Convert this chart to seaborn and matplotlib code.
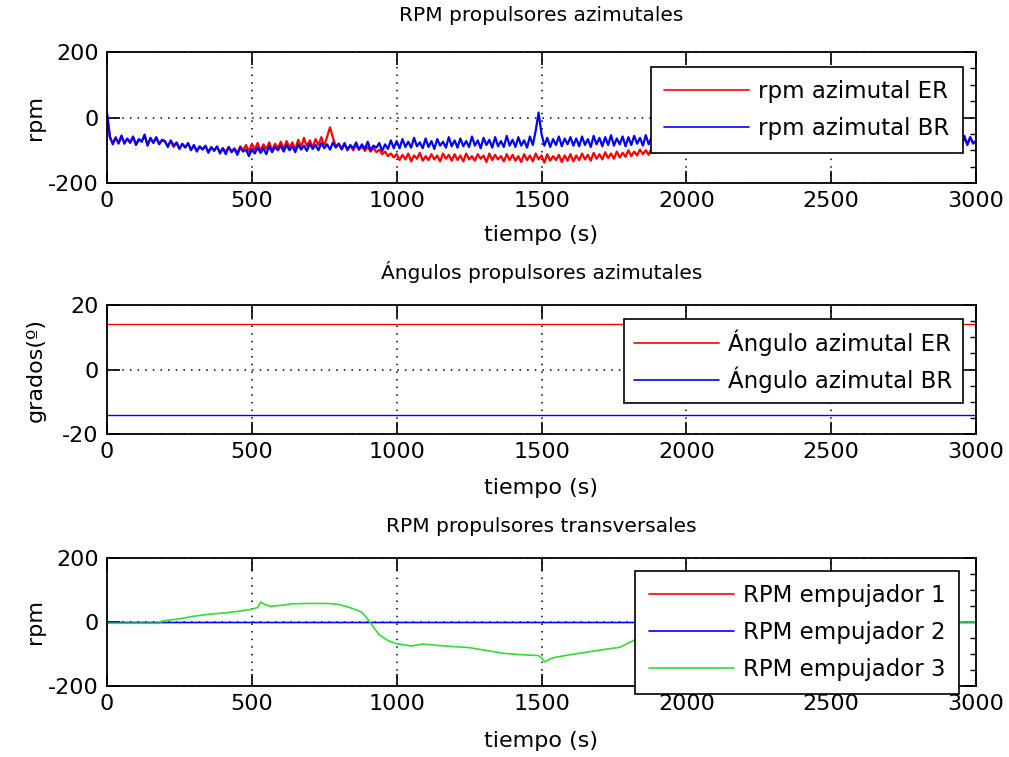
import numpy as np
import pandas as pd
import matplotlib
matplotlib.use("Agg")
import matplotlib.pyplot as plt
from matplotlib.ticker import MultipleLocator
import seaborn as sns

# ---------------- data ----------------
t_az = list(range(0, 3001, 10))  # time (s)

rpm_br = [
    15, -58, -82, -62, -78, -55, -80, -64, -76, -58, -84, -66, -74, -52, -86, -62, -78, -60, -82, -68,
    -72, -90, -70, -86, -76, -96, -80, -92, -78, -100, -84, -104, -88, -98, -86, -108, -90, -102, -88, -110,
    -94, -112, -90, -106, -96, -114, -92, -104, -98, -118, -96, -110, -92, -108, -94, -112, -88, -106, -90, -100,
    -86, -104, -84, -100, -88, -106, -82, -98, -86, -102, -80, -96, -84, -100, -78, -94, -82, -98, -76, -92,
    -80, -96, -78, -100, -84, -94, -76, -98, -82, -96, -74, -100, -86, -92, -78, -102, -82, -96, -70, -94,
    -72, -94, -66, -90, -74, -92, -62, -88, -76, -94, -64, -90, -72, -96, -66, -86, -74, -92, -60, -88,
    -70, -92, -64, -88, -72, -90, -58, -86, -70, -94, -62, -84, -68, -92, -60, -88, -72, -90, -56, -86,
    -68, -90, -60, -86, -70, -92, -58, -84, -40, 15, -50, -86, -62, -90, -66, -84, -58, -88, -64, -82,
    -60, -86, -64, -88, -58, -84, -66, -90, -56, -82, -62, -88, -60, -84, -54, -86, -64, -82, -58, -88,
    -60, -84, -56, -80, -62, -86, -54, -82, -60, -78, -52, -84, -58, -80, -62, -86, -56, -78, -60, -82,
    -58, -80, -62, -84, -56, -78, -64, -82, -60, -76, -54, -80, -62, -84, -58, -78, -64, -80, -56, -82,
    -60, -78, -56, -84, -62, -80, -58, -76, -64, -82, -56, -80, -60, -84, -62, -78, -54, -80, -60, -82,
    -62, -80, -58, -78, -56, -84, -60, -80, -64, -76, -58, -82, -60, -78, -56, -80, -62, -84, -58, -78,
    -56, -80, -62, -82, -58, -78, -60, -84, -62, -80, -56, -78, -64, -82, -58, -80, -60, -76, -56, -82,
    -60, -78, -58, -84, -62, -80, -56, -78, -60, -82, -54, -86, -62, -80, -58, -92, -56, -84, -60, -78,
    -72,
]

rpm_er = [
    10, -62, -78, -60, -80, -58, -76, -66, -78, -60, -82, -68, -72, -56, -84, -64, -76, -62, -80, -70,
    -74, -88, -72, -90, -78, -94, -82, -90, -80, -98, -86, -100, -90, -96, -88, -104, -92, -100, -90, -106,
    -94, -106, -90, -102, -94, -108, -88, -100, -84, -104, -80, -98, -78, -102, -82, -96, -76, -100, -80, -94,
    -74, -96, -72, -92, -76, -98, -68, -90, -62, -88, -70, -92, -66, -84, -60, -88, -58, -30, -62, -88,
    -80, -98, -82, -96, -86, -100, -84, -98, -88, -102, -90, -104, -92, -106, -98, -112, -104, -118, -110, -122,
    -112, -130, -114, -128, -110, -134, -116, -126, -108, -132, -118, -130, -112, -128, -116, -134, -110, -126, -114, -132,
    -112, -130, -116, -134, -110, -128, -118, -132, -112, -126, -116, -136, -110, -130, -114, -128, -118, -134, -112, -130,
    -114, -132, -118, -136, -112, -130, -116, -134, -110, -128, -116, -138, -112, -132, -118, -130, -114, -136, -116, -132,
    -112, -134, -116, -130, -110, -128, -114, -132, -108, -126, -112, -128, -106, -124, -110, -126, -104, -122, -108, -120,
    -100, -118, -104, -116, -98, -112, -100, -114, -94, -108, -96, -106, -88, -104, -90, -100, -84, -98, -82, -94,
    -64, -84, -66, -80, -62, -82, -68, -78, -60, -84, -66, -80, -64, -78, -62, -82, -68, -80, -60, -84,
    -66, -78, -62, -82, -68, -80, -60, -84, -64, -78, -66, -82, -62, -80, -68, -78, -60, -82, -66, -80,
    -62, -84, -68, -78, -64, -80, -60, -82, -66, -78, -62, -84, -68, -80, -64, -78, -60, -82, -66, -80,
    -68, -80, -62, -82, -66, -78, -64, -84, -60, -80, -66, -78, -62, -82, -68, -80, -64, -78, -60, -84,
    -66, -80, -62, -78, -68, -82, -64, -80, -60, -78, -66, -84, -62, -80, -68, -78, -64, -82, -60, -80,
    -72,
]

t_ang = [0, 3000]
ang_er = [14, 14]
ang_br = [-14, -14]

t_tr = [0, 3000]
rpm_emp1 = [0, 0]
rpm_emp2 = [0, 0]

t_emp3 = [0, 185, 190, 250, 300, 350, 400, 450, 500, 520, 530, 545, 565, 600,
          640, 700, 760, 800, 835, 860, 880, 895, 915, 940, 970, 1000, 1030,
          1050, 1090, 1150, 1250, 1370, 1430, 1490, 1500, 1512, 1530, 1550,
          1600, 1650, 1700, 1770, 1840, 1900, 1960, 2020, 2100, 3000]
rpm_emp3 = [-4, -4, 3, 10, 18, 24, 28, 33, 40, 45, 62, 55, 49, 52,
            57, 58, 58, 55, 46, 38, 30, 15, -10, -40, -58, -68, -72,
            -75, -69, -74, -80, -98, -102, -105, -112, -125, -115, -110,
            -102, -95, -88, -79, -48, -25, -10, -4, 0, 0]

xticks = [0, 500, 1000, 1500, 2000, 2500, 3000]

# ---------------- style ----------------
sns.set_style("white")
plt.rcParams['font.family'] = ['DejaVu Sans']
plt.rcParams['axes.unicode_minus'] = False
for k in ('text.color', 'axes.labelcolor', 'xtick.color', 'ytick.color'):
    plt.rcParams[k] = 'black'

W, H = 1009, 757
fig = plt.figure(figsize=(W / 100, H / 100), dpi=100)

def ax_at(left, right, top, bottom):
    return fig.add_axes([left / W, 1 - bottom / H, (right - left) / W, (bottom - top) / H])

ax1 = ax_at(107, 976, 52, 183)
ax2 = ax_at(107, 976, 305, 434)
ax3 = ax_at(107, 976, 558, 686)

RED = '#ff0000'
BLUE = '#0000ff'
GREEN = '#33dd33'

# top panel
sns.lineplot(x=t_az, y=rpm_er, ax=ax1, color=RED, lw=1.6, label='rpm azimutal ER', sort=False)
sns.lineplot(x=t_az, y=rpm_br, ax=ax1, color=BLUE, lw=1.6, label='rpm azimutal BR', sort=False)

# middle panel
sns.lineplot(x=t_ang, y=ang_er, ax=ax2, color=RED, lw=1.0, label='Ángulo azimutal ER')
sns.lineplot(x=t_ang, y=ang_br, ax=ax2, color=BLUE, lw=1.0, label='Ángulo azimutal BR')

# bottom panel
sns.lineplot(x=t_tr, y=rpm_emp1, ax=ax3, color=RED, lw=1.0, label='RPM empujador 1')
sns.lineplot(x=t_tr, y=rpm_emp2, ax=ax3, color=BLUE, lw=1.0, label='RPM empujador 2')
sns.lineplot(x=t_emp3, y=rpm_emp3, ax=ax3, color=GREEN, lw=1.2, label='RPM empujador 3', sort=False)

panels = [
    (ax1, 'RPM propulsores azimutales', 'rpm', (-200, 200), [-200, 0, 200], 50, 22,
     (0.985, 0.885), -0.32, 0.6, 0.58),
    (ax2, 'Ángulos propulsores azimutales', 'grados(º)', (-20, 20), [-20, 0, 20], 5, 19,
     (0.985, 0.891), -0.34, 0.45, 0.45),
    (ax3, 'RPM propulsores transversales', 'rpm', (-200, 200), [-200, 0, 200], 50, 19,
     (0.98, 0.898), -0.35, 0.6, 0.58),
]

FS = 16
LFS = 16.5
for ax, title, ylab, ylim, yt, minor, pad, anchor, xl_y, lsp, bpad in panels:
    ax.set_xlim(0, 3000)
    ax.set_ylim(*ylim)
    ax.set_xticks(xticks)
    ax.set_yticks(yt)
    ax.yaxis.set_minor_locator(MultipleLocator(minor))
    ax.tick_params(which='major', direction='in', length=9, width=1.2,
                   top=True, right=True, bottom=True, left=True,
                   labelsize=FS, pad=6, colors='black')
    ax.tick_params(which='minor', direction='in', length=4, width=1,
                   left=False, right=True, top=False, bottom=False)
    ax.grid(True, which='major', color='black', linestyle=(0, (1, 4)), linewidth=1.1)
    for sp in ax.spines.values():
        sp.set_visible(True)
        sp.set_color('black')
        sp.set_linewidth(1.3)
    ax.set_title(title, fontsize=14.5, pad=pad, color='black')
    ax.set_xlabel('tiempo (s)', fontsize=FS, color='black')
    ax.set_ylabel(ylab, fontsize=FS, color='black')
    ax.xaxis.set_label_coords(0.5, xl_y)
    ax.yaxis.set_label_coords(-0.071, 0.5)
    leg = ax.legend(loc='upper right', bbox_to_anchor=anchor, fontsize=LFS,
                    frameon=True, fancybox=False, shadow=False, framealpha=1,
                    edgecolor='black', handlelength=3.7, handletextpad=0.4,
                    labelspacing=lsp, borderpad=bpad, borderaxespad=0)
    leg.get_frame().set_linewidth(1.2)
    for txt in leg.get_texts():
        txt.set_color('black')
    for lh in leg.get_lines():
        lh.set_linewidth(1.2)

fig.savefig('out.png', dpi=100, facecolor='white')
